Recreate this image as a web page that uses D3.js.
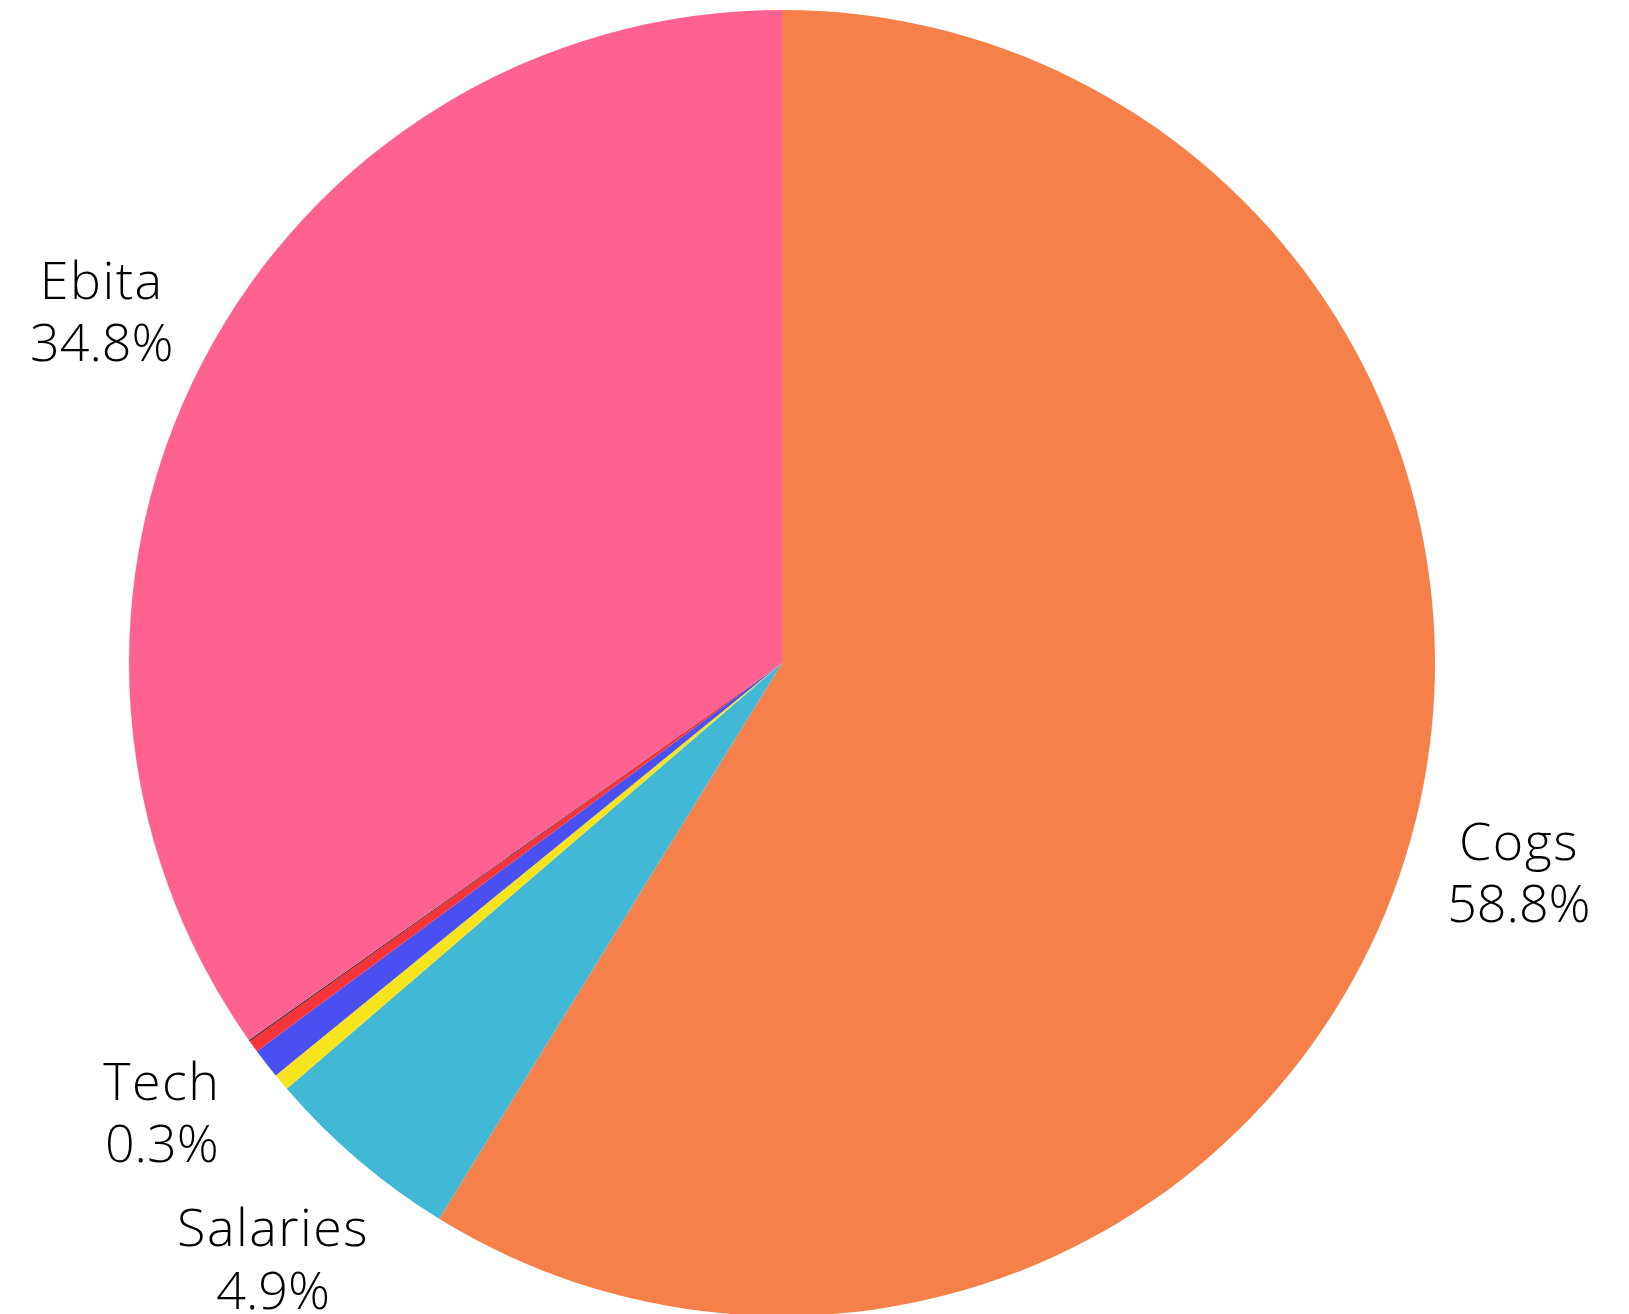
<!DOCTYPE html>
<html>
<head>
<meta charset="utf-8">
<script src="https://cdn.jsdelivr.net/npm/d3@7"></script>
<style>
  body { margin: 0; background: #fff; }
  svg { display: block; }
  .lbl { font-family: "Open Sans", Lato, sans-serif; font-weight: 300; font-size: 52px; fill: #000; }
  .lbl .name { letter-spacing: 1.5px; }
</style>
</head>
<body>
<div class="chart"></div>
<script>
// slice data, clockwise from 12 o'clock
let categories = ['Cogs', 'Salaries', 'Marketing', 'Rent', 'Tech', 'Other', 'Ebita'];
let values = [58.8, 4.9, 0.42, 0.75, 0.30, 0.03, 34.8];
let colors = ['#f6804a', '#41b8d5', '#f7e41e', '#4a50f2', '#f5333a', '#222222', '#ff6291'];
let labelled = ['Cogs', 'Salaries', 'Tech', 'Ebita'];

let width = 1629;
let height = 1314;
let cx = 782, cy = 663;
let radius = 653;

let svg = d3.select('.chart')
    .append('svg')
    .attr('width', width)
    .attr('height', height);

let g = svg.append('g')
    .attr('transform', `translate(${cx}, ${cy})`);

let rows = categories.map((c, i) => ({ name: c, value: values[i], color: colors[i] }));

let pie = d3.pie()
    .sort(null)
    .value(d => d.value);

let arc = d3.arc()
    .innerRadius(0)
    .outerRadius(radius);

// labels sit a bit outside the pie; Salaries gets pushed out a little
// so it clears the Tech label
function labelPos(d) {
    let r = radius * (d.data.name === 'Salaries' ? 1.2 : 1.173);
    return d3.arc().innerRadius(r).outerRadius(r).centroid(d);
}

let arcs = pie(rows);

g.selectAll('path')
    .data(arcs)
    .enter()
    .append('path')
    .attr('d', arc)
    .style('fill', d => d.data.color);

let totals = d3.sum(values);

let labels = g.selectAll('text.lbl')
    .data(arcs.filter(d => labelled.includes(d.data.name)))
    .enter()
    .append('text')
    .attr('class', 'lbl')
    .attr('text-anchor', 'middle')
    .attr('transform', d => `translate(${labelPos(d)})`);

labels.append('tspan')
    .attr('class', 'name')
    .attr('x', 0)
    .attr('dy', '-0.24em')
    .text(d => d.data.name);

labels.append('tspan')
    .attr('x', 0)
    .attr('dy', '1.2em')
    .text(d => (d.data.value / totals * 100).toFixed(1) + '%');
</script>
</body>
</html>
